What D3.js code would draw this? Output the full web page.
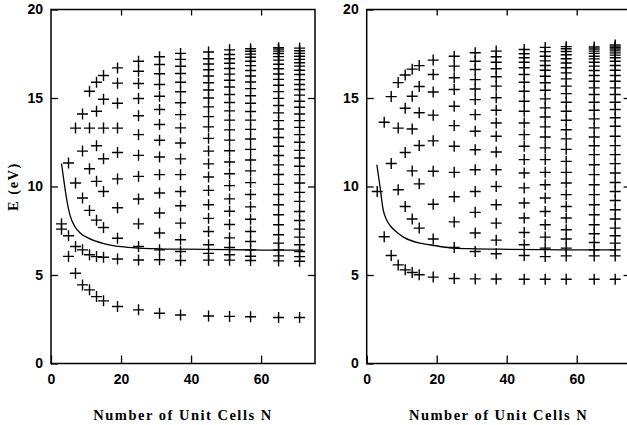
<!DOCTYPE html>
<html>
<head>
<meta charset="utf-8">
<script src="https://cdn.jsdelivr.net/npm/d3@7"></script>
<style>
  html, body { margin: 0; padding: 0; background: #fff; }
  svg { display: block; }
  .tick text { font-family: "Liberation Sans", Arial, sans-serif; font-weight: bold; font-size: 14px; fill: #000; }
  .title { font-family: "Liberation Serif", "Times New Roman", serif; font-weight: bold; font-size: 14.5px; letter-spacing: 1.5px; fill: #000; }
</style>
</head>
<body>
<svg id="chart" width="627" height="425"></svg>
<script>
// Chain lengths (number of unit cells) at which the levels were computed
const cellCounts = [3, 5, 7, 9, 11, 13, 15, 19, 25, 31, 37, 45, 51, 57, 65, 71];

// Energy levels (eV) for each chain length, left panel
const leftLevels = [
  [7.59, 7.89],
  [6.05, 7.22, 11.33],
  [5.10, 6.61, 10.2, 13.3],
  [4.44, 6.42, 9.35, 12.0, 14.1],
  [4.16, 6.14, 8.65, 11.0, 13.3, 15.38],
  [3.78, 6.04, 8.1, 10.29, 12.3, 14.25, 15.89],
  [3.54, 6.0, 7.68, 9.72, 11.57, 13.3, 14.93, 16.27],
  [3.22, 5.9, 7.08, 8.8, 10.43, 11.92, 13.3, 14.7, 15.84, 16.7],
  [3.03, 5.85, 6.61, 7.89, 9.29, 10.57, 11.76, 12.93, 14.0, 14.97, 15.82, 16.51, 17.08],
  [2.84, 5.86, 6.42, 7.37, 8.5, 9.63, 10.67, 11.67, 12.61, 13.5, 14.35, 15.1, 15.76, 16.37, 16.89, 17.33],
  [2.74, 5.82, 6.33, 6.99, 7.93, 8.91, 9.72, 10.67, 11.56, 12.46, 13.31, 14.06, 14.73, 15.35, 15.89, 16.38, 16.79, 17.18, 17.52],
  [2.68, 5.84, 6.22, 6.71, 7.46, 8.2, 8.97, 9.78, 10.54, 11.28, 12.0, 12.72, 13.37, 13.95, 14.5, 15.0, 15.45, 15.86, 16.24, 16.6, 16.92, 17.22, 17.6],
  [2.66, 5.84, 6.14, 6.55, 7.1, 7.85, 8.6, 9.3, 10.05, 10.72, 11.38, 12.02, 12.62, 13.2, 13.75, 14.27, 14.75, 15.2, 15.62, 16.0, 16.35, 16.67, 16.96, 17.22, 17.46, 17.72],
  [2.64, 5.82, 6.06, 6.42, 6.89, 7.46, 8.15, 8.85, 9.55, 10.22, 10.88, 11.5, 12.1, 12.68, 13.23, 13.75, 14.24, 14.7, 15.13, 15.53, 15.9, 16.24, 16.55, 16.83, 17.08, 17.3, 17.48, 17.64, 17.78],
  [2.6, 5.8, 6.08, 6.42, 6.8, 7.27, 7.84, 8.4, 8.97, 9.55, 10.12, 10.68, 11.22, 11.75, 12.27, 12.77, 13.25, 13.72, 14.16, 14.58, 14.98, 15.36, 15.72, 16.05, 16.36, 16.65, 16.91, 17.14, 17.34, 17.51, 17.65, 17.76, 17.84],
  [2.6, 5.78, 6.04, 6.33, 6.71, 7.14, 7.59, 8.08, 8.59, 9.16, 9.67, 10.2, 10.67, 11.14, 11.61, 12.04, 12.5, 12.93, 13.34, 13.72, 14.1, 14.48, 14.82, 15.16, 15.48, 15.76, 16.04, 16.33, 16.57, 16.8, 16.99, 17.18, 17.36, 17.52, 17.67, 17.82]
];

// Energy levels (eV) for each chain length, right panel
const rightLevels = [
  [9.72],
  [7.16, 13.63],
  [6.1, 11.3, 15.08],
  [5.57, 9.82, 13.3, 15.87],
  [5.29, 8.87, 11.92, 14.42, 16.3],
  [5.14, 8.16, 10.88, 13.25, 15.1, 16.63],
  [5.01, 7.65, 10.15, 12.32, 14.17, 15.65, 16.83],
  [4.88, 7.03, 9.0, 10.86, 12.58, 14.03, 15.34, 16.33, 17.14],
  [4.8, 6.55, 8.0, 9.42, 10.8, 12.27, 13.44, 14.53, 15.48, 16.14, 16.8, 17.36],
  [4.78, 6.33, 7.37, 8.54, 9.72, 10.95, 12.08, 13.12, 14.06, 14.91, 15.51, 16.04, 16.61, 17.08, 17.56],
  [4.77, 6.2, 6.97, 7.93, 8.97, 10.0, 10.95, 11.95, 12.84, 13.59, 14.31, 15.01, 15.67, 16.2, 16.65, 17.02, 17.33, 17.65],
  [4.76, 6.1, 6.71, 7.4, 8.22, 9.07, 9.92, 10.76, 11.52, 12.27, 12.93, 13.59, 14.25, 14.82, 15.38, 15.89, 16.33, 16.71, 17.02, 17.27, 17.5, 17.74],
  [4.76, 6.04, 6.52, 7.14, 7.84, 8.59, 9.35, 10.1, 10.8, 11.52, 12.18, 12.8, 13.37, 13.93, 14.44, 14.95, 15.44, 15.86, 16.23, 16.57, 16.84, 17.1, 17.36, 17.62, 17.86],
  [4.76, 6.08, 6.52, 7.03, 7.56, 8.22, 8.87, 9.54, 10.2, 10.8, 11.42, 12.1, 12.69, 13.21, 13.74, 14.25, 14.76, 15.25, 15.67, 16.08, 16.42, 16.71, 16.98, 17.22, 17.44, 17.63, 17.78, 17.9],
  [4.76, 6.08, 6.42, 6.84, 7.33, 7.84, 8.4, 8.97, 9.54, 10.1, 10.67, 11.23, 11.8, 12.3, 12.8, 13.31, 13.82, 14.31, 14.76, 15.2, 15.57, 15.95, 16.27, 16.55, 16.8, 17.02, 17.21, 17.36, 17.52, 17.65, 17.77, 17.88],
  [4.76, 6.08, 6.42, 6.8, 7.22, 7.65, 8.16, 8.69, 9.21, 9.72, 10.23, 10.76, 11.29, 11.8, 12.31, 12.84, 13.4, 13.88, 14.35, 14.76, 15.2, 15.57, 15.95, 16.27, 16.57, 16.84, 17.08, 17.27, 17.42, 17.55, 17.66, 17.76, 17.84, 17.93, 18.0]
];

// Solid reference curve E(N), left panel
const leftCurveN = [3, 3.7, 4.5, 5.4, 6.9, 8.5, 10.7, 15.4, 20, 25, 31, 38, 50, 60, 72];
const leftCurveE = [11.3, 10.3, 9.25, 8.4, 7.71, 7.35, 7.08, 6.76, 6.6, 6.52, 6.48, 6.46, 6.43, 6.41, 6.4];

// Solid reference curve E(N), right panel
const rightCurveN = [2.9, 3.8, 4.7, 5.6, 6.9, 8.7, 10.5, 15.2, 18, 24.7, 31, 38, 50, 60, 71];
const rightCurveE = [11.23, 10.0, 8.69, 8.15, 7.74, 7.4, 7.14, 6.8, 6.71, 6.52, 6.48, 6.46, 6.43, 6.42, 6.42];

const xTickValues = [0, 20, 40, 60];
const yTickValues = [0, 5, 10, 15, 20];
const xTitle = "Number of Unit Cells N";
const yTitle = "E (eV)";

const svg = d3.select("#chart");
const plotTop = 9.5, plotBottom = 363.5;
const xMax = 75.4;

const y = d3.scaleLinear().domain([0, 20]).range([plotBottom, plotTop]);

function drawPanel(left, right, levels, curveN, curveE, showYTitle) {
  const x = d3.scaleLinear().domain([0, xMax]).range([left, right]);
  const g = svg.append("g");

  // bottom axis with labels, ticks pointing inward
  g.append("g")
    .attr("transform", `translate(0,${plotBottom})`)
    .call(d3.axisBottom(x).tickValues(xTickValues).tickSize(-8).tickSizeOuter(0).tickPadding(11).tickFormat(d3.format("d")))
    .call(a => a.select(".domain").remove());

  // top axis, ticks only
  g.append("g")
    .attr("transform", `translate(0,${plotTop})`)
    .call(d3.axisTop(x).tickValues(xTickValues.filter(v => v > 0)).tickSize(-6).tickSizeOuter(0).tickFormat(""))
    .call(a => a.select(".domain").remove());

  // left axis with labels
  g.append("g")
    .attr("transform", `translate(${left},0)`)
    .call(d3.axisLeft(y).tickValues(yTickValues).tickSize(-7).tickSizeOuter(0).tickPadding(8).tickFormat(d3.format("d")))
    .call(a => a.select(".domain").remove());

  // right axis, ticks only
  g.append("g")
    .attr("transform", `translate(${right},0)`)
    .call(d3.axisRight(y).tickValues(yTickValues.filter(v => v > 0 && v < 20)).tickSize(-7).tickSizeOuter(0).tickFormat(""))
    .call(a => a.select(".domain").remove());

  g.selectAll(".tick line").attr("stroke", "#000").attr("stroke-width", 1.3);

  // frame
  g.append("rect")
    .attr("x", left).attr("y", plotTop)
    .attr("width", right - left).attr("height", plotBottom - plotTop)
    .attr("fill", "none").attr("stroke", "#000").attr("stroke-width", 1.5);

  // level markers
  const pts = [];
  cellCounts.forEach((n, i) => levels[i].forEach(e => pts.push({ n, e })));
  g.append("g").selectAll("path")
    .data(pts)
    .join("path")
    .attr("transform", d => `translate(${x(d.n)},${y(d.e)})`)
    .attr("d", "M-5.5,0H5.5M0,-5.5V5.5")
    .attr("stroke", "#000").attr("stroke-width", 1.4).attr("fill", "none");

  // reference curve
  const line = d3.line()
    .x(d => x(d[0])).y(d => y(d[1]))
    .curve(d3.curveMonotoneX);
  g.append("path")
    .datum(curveN.map((n, i) => [n, curveE[i]]))
    .attr("d", line)
    .attr("fill", "none").attr("stroke", "#000").attr("stroke-width", 1.3);

  // x title
  g.append("text").attr("class", "title")
    .attr("x", (left + right) / 2).attr("y", 420)
    .attr("text-anchor", "middle").text(xTitle);

  if (showYTitle) {
    g.append("text").attr("class", "title")
      .attr("transform", `translate(18,${(plotTop + plotBottom) / 2}) rotate(-90)`)
      .attr("text-anchor", "middle").text(yTitle);
  }
}

drawPanel(51, 315, leftLevels, leftCurveN, leftCurveE, true);
drawPanel(366.7, 630.6, rightLevels, rightCurveN, rightCurveE, false);
</script>
</body>
</html>
